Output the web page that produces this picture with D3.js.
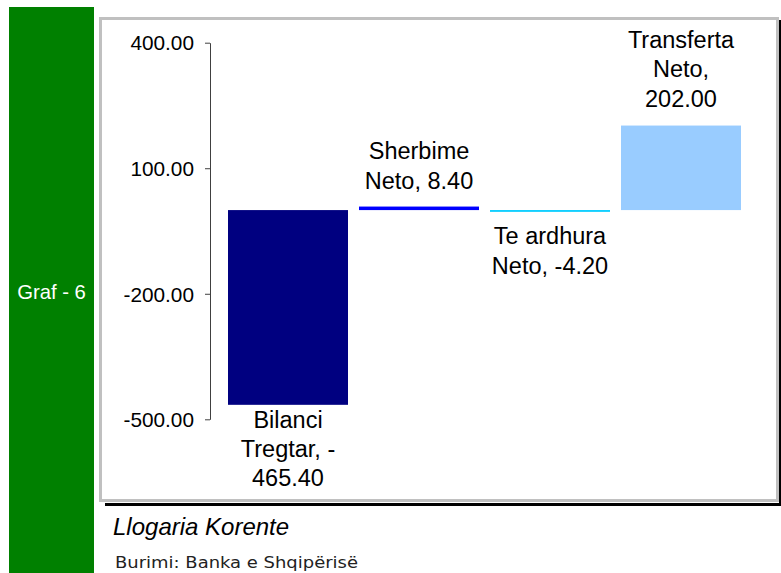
<!DOCTYPE html>
<html><head><meta charset="utf-8">
<script src="https://cdn.jsdelivr.net/npm/d3@7"></script>
<style>body{margin:0;background:#fff}svg{display:block}</style>
</head><body>
<script>
const categories = ["Bilanci Tregtar", "Sherbime Neto", "Te ardhura Neto", "Transferta Neto"];
const values = [-465.40, 8.40, -4.20, 202.00];
const labelLines = [["Bilanci", "Tregtar, -", "465.40"], ["Sherbime", "Neto, 8.40"], ["Te ardhura", "Neto, -4.20"], ["Transferta", "Neto,", "202.00"]];
const colors = ["#000080", "#0000FF", "#00CCFF", "#99CCFF"];
const tickValues = [400, 100, -200, -500];
const title = "Llogaria Korente";
const source = "Burimi: Banka e Shqipërisë";
const sideLabel = "Graf - 6";

const W = 781, H = 573;
const svg = d3.select("body").append("svg").attr("width", W).attr("height", H);
const font = "'Liberation Sans', Arial, sans-serif";

// green side bar
svg.append("rect").attr("x", 9).attr("y", 7).attr("width", 85).attr("height", H - 7).attr("fill", "#008000");
svg.append("text").attr("x", 51.5).attr("y", 299).attr("text-anchor", "middle")
  .attr("font-family", font).attr("font-size", 20.3).attr("fill", "#fff").text(sideLabel);

// panel shadow and border
svg.append("rect").attr("x", 105).attr("y", 503).attr("width", 676).attr("height", 3).attr("fill", "#000");
svg.append("rect").attr("x", 779).attr("y", 20).attr("width", 2).attr("height", 486).attr("fill", "#000");
svg.append("rect").attr("x", 100.5).attr("y", 18.5).attr("width", 677).attr("height", 482)
  .attr("fill", "#fff").attr("stroke", "#c0c0c0").attr("stroke-width", 3);

const y = d3.scaleLinear().domain([-500, 400]).range([419.3, 42.7]);
const x = d3.scaleBand().domain(categories).range([222.5, 746.5]).paddingInner(0.084).paddingOuter(0.042);

// axis
const fmt = d3.format(".2f");
const axis = d3.axisLeft(y).tickValues(tickValues).tickFormat(d => fmt(d).replace("\u2212", "-"))
  .tickSize(5).tickSizeOuter(0).tickPadding(11);
const g = svg.append("g").attr("transform", "translate(210,0)").call(axis);
g.select(".domain").attr("stroke", "#404040");
g.selectAll(".tick line").attr("stroke", "#404040");
g.selectAll(".tick text").attr("font-family", font).attr("font-size", 20.8).attr("fill", "#000").attr("dy", "0.35em");

// bars
svg.selectAll("rect.bar").data(values).enter().append("rect").attr("class", "bar")
  .attr("x", (d, i) => x(categories[i]))
  .attr("width", x.bandwidth())
  .attr("y", d => y(Math.max(0, d)))
  .attr("height", d => Math.abs(y(d) - y(0)))
  .attr("fill", (d, i) => colors[i]);

// labels (Excel-like placement offsets)
const lh = 29.4;
const labelGap = [22.8, 18, 32.3, 18.7];
values.forEach((v, i) => {
  const lines = labelLines[i];
  const cx = x(categories[i]) + x.bandwidth() / 2;
  let firstBase;
  if (v < 0) firstBase = y(v) + labelGap[i];
  else firstBase = y(v) - labelGap[i] - (lines.length - 1) * lh;
  const t = svg.append("text").attr("text-anchor", "middle").attr("font-family", font).attr("font-size", 23.5).attr("fill", "#000");
  lines.forEach((l, k) => t.append("tspan").attr("x", cx).attr("y", firstBase + k * lh).text(l));
});

// title and source
svg.append("text").attr("x", 113).attr("y", 535).attr("font-family", font).attr("font-style", "italic")
  .attr("font-size", 24).attr("fill", "#000").text(title);
svg.append("text").attr("x", 115).attr("y", 568).attr("font-family", "'DejaVu Sans', sans-serif")
  .attr("font-size", 16).attr("fill", "#222").attr("textLength", 243).attr("lengthAdjust", "spacingAndGlyphs").text(source);
</script>
</body></html>
